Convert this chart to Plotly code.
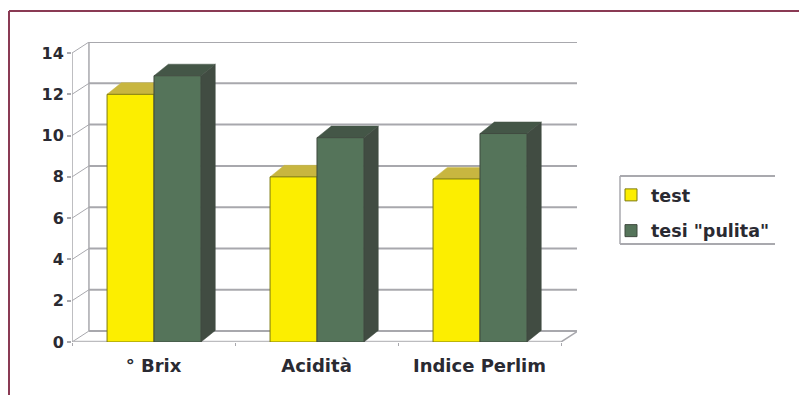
import plotly.graph_objects as go

# Chart data
categories = ["° Brix", "Acidità", "Indice Perlim"]
series_names = ["test", 'tesi "pulita"']
test_values = [12.0, 8.0, 7.9]
clean_values = [12.9, 9.9, 10.1]
y_ticks = [0, 2, 4, 6, 8, 10, 12, 14]

# Pseudo-3D geometry, in axis units
BAR_WIDTH = 0.288
BAR_START = 0.215
WALL_DX, WALL_DY = 0.104, 0.533
BAR_DX, BAR_DY = 0.088, 0.56
Y_TOP = 14
N = len(categories)

# Figure geometry in pixels
W, H = 799, 395
L, R, T, B = 72, 222, 42, 53
plot_w, plot_h = W - L - R, H - T - B
X_MAX = plot_w / 163.0
Y_MAX = plot_h / 20.64


def px(x):
    return (x - L) / plot_w


def py(y):
    return (H - B - y) / plot_h


GRID = "#a8a8ad"
FONT = "DejaVu Sans, Verdana, sans-serif"
TEXT = "#2a2a32"
fig = go.Figure()


def line(xs, ys, color=GRID, width=1.5):
    fig.add_trace(go.Scatter(x=xs, y=ys, mode="lines", line=dict(color=color, width=width),
                             showlegend=False, hoverinfo="skip", cliponaxis=False, zorder=0))


def face(xs, ys, color, z):
    fig.add_trace(go.Scatter(x=xs, y=ys, mode="lines", fill="toself", fillcolor=color,
                             line=dict(color=color, width=0.5), showlegend=False,
                             hoverinfo="skip", cliponaxis=False, zorder=z))


# Back wall gridlines and the diagonals running to the front axis
for v in y_ticks:
    line([WALL_DX, N + WALL_DX], [v + WALL_DY] * 2, width=2)
    line([0, WALL_DX], [v, v + WALL_DY], width=1)
line([WALL_DX, WALL_DX], [WALL_DY, Y_TOP + WALL_DY], width=1.5)
line([N + WALL_DX, N + WALL_DX], [WALL_DY, Y_TOP + WALL_DY], width=1.5)
line([N, N + WALL_DX], [0, WALL_DY], width=1.5)
line([0, N], [0, 0], color="#bcbcbf", width=2.5)
line([0, 0], [0, Y_TOP], width=1.5)

# Each series: top and side faces first, then the front bar
styles = [
    (test_values, 0.0, "#fcee00", "#c8b640", "#8e8a20", "#7d7a10"),
    (clean_values, BAR_WIDTH, "#55745a", "#445647", "#414c42", "#3f4a3f"),
]
for i, (values, shift, front, top, side, edge) in enumerate(styles):
    z = 1 + 2 * i
    for k, v in enumerate(values):
        x0 = k + BAR_START + shift
        x1 = x0 + BAR_WIDTH
        face([x0, x1, x1 + BAR_DX, x0 + BAR_DX, x0], [v, v, v + BAR_DY, v + BAR_DY, v], top, z)
        face([x1, x1 + BAR_DX, x1 + BAR_DX, x1, x1], [0, BAR_DY, v + BAR_DY, v, 0], side, z)
    fig.add_trace(go.Bar(
        x=[k + BAR_START + shift for k in range(N)], y=values, width=BAR_WIDTH, offset=0,
        name=series_names[i], marker=dict(color=front, line=dict(color=edge, width=1)),
        legendgroup=series_names[i], zorder=z + 1))

box_left, box_right, box_top, box_bottom = 620, 775, 176, 244
frame = "#8a3a54"
legend_rule = "#a9a9ae"
shapes = [
    dict(type="line", x0=px(9), x1=px(W), y0=py(11), y1=py(11), line=dict(color=frame, width=2)),
    dict(type="line", x0=px(9), x1=px(9), y0=py(11), y1=py(H), line=dict(color=frame, width=2)),
    dict(type="line", x0=px(box_left), x1=px(box_right), y0=py(box_top), y1=py(box_top),
         line=dict(color=legend_rule, width=2)),
    dict(type="line", x0=px(box_left), x1=px(box_right), y0=py(box_bottom), y1=py(box_bottom),
         line=dict(color=legend_rule, width=2)),
    dict(type="line", x0=px(box_left), x1=px(box_left), y0=py(box_top), y1=py(box_bottom),
         line=dict(color=legend_rule, width=1.5)),
]
for s in shapes:
    s.update(xref="paper", yref="paper", layer="below")

fig.update_layout(
    width=W, height=H, autosize=False,
    margin=dict(l=L, r=R, t=T, b=B, pad=0),
    paper_bgcolor="white", plot_bgcolor="white",
    barmode="overlay", shapes=shapes,
    font=dict(family=FONT, size=16, color=TEXT),
    xaxis=dict(range=[0, X_MAX], tickvals=[k + 0.5 for k in range(N)], ticktext=categories,
               showgrid=False, zeroline=False, showline=False, ticks="", fixedrange=True,
               ticklabelstandoff=11,
               tickfont=dict(family=FONT, size=18, color=TEXT, weight="bold"),
               minor=dict(tickmode="array", tickvals=list(range(N + 1)), ticks="outside",
                          ticklen=3, tickcolor=GRID, tickwidth=1, showgrid=False)),
    yaxis=dict(range=[0, Y_MAX], tickvals=y_ticks, showgrid=False, zeroline=False,
               showline=False, ticks="outside", ticklen=4, tickcolor=GRID, tickwidth=1.5,
               fixedrange=True, tickfont=dict(family=FONT, size=16, color=TEXT, weight="bold")),
    legend=dict(x=px(box_left), y=py(box_top + 1), xanchor="left", yanchor="top",
                bgcolor="rgba(0,0,0,0)", borderwidth=0, tracegroupgap=10, indentation=-9,
                font=dict(family=FONT, size=17.5, color=TEXT, weight="bold")),
)

fig.write_html("out.html", config=dict(displayModeBar=False))
